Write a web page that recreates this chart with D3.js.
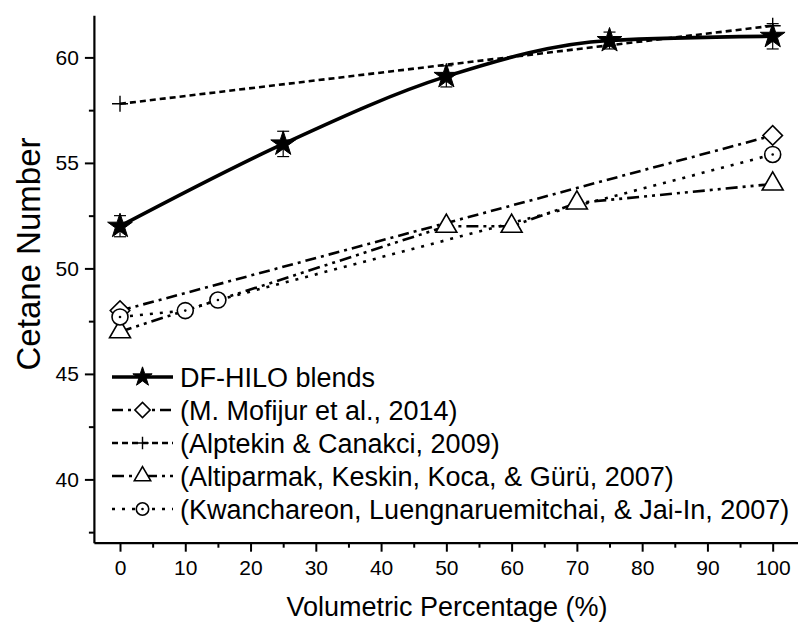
<!DOCTYPE html>
<html>
<head>
<meta charset="utf-8">
<script src="https://cdn.jsdelivr.net/npm/d3@7"></script>
<style>
    body { margin: 0; background: #fff; }
    text { font-family: "Liberation Sans", Arial, sans-serif; fill: #000; }
</style>
</head>
<body>
<div id="canvas"></div>
<script>
/**
 * Data
 */
const hiloX = [0, 25, 50, 75, 100];
const hiloY = [52.0, 55.9, 59.1, 60.8, 61.0];
const hiloErr = [0.5, 0.6, 0.5, 0.4, 0.6];

const mofijurX = [0, 100];
const mofijurY = [48.0, 56.3];

const alptekinX = [0, 100];
const alptekinY = [57.8, 61.5];

const altiparmakX = [0, 50, 60, 70, 100];
const altiparmakY = [47.0, 52.0, 52.0, 53.1, 54.0];

const kwanX = [0, 10, 15, 100];
const kwanY = [47.7, 48.0, 48.5, 55.4];

const legendLabels = [
    "DF-HILO blends",
    "(M. Mofijur et al., 2014)",
    "(Alptekin & Canakci, 2009)",
    "(Altiparmak, Keskin, Koca, & Gürü, 2007)",
    "(Kwanchareon, Luengnaruemitchai, & Jai-In, 2007)"
];

const xTickValues = [0, 10, 20, 30, 40, 50, 60, 70, 80, 90, 100];
const xMinorValues = [5, 15, 25, 35, 45, 55, 65, 75, 85, 95];
const yTickValues = [40, 45, 50, 55, 60];
const yMinorValues = [37.5, 42.5, 47.5, 52.5, 57.5];

/**
 * Helper Functions
 */
const zip = (xs, ys) => xs.map((x, i) => ({ x: x, y: ys[i] }));

// marker drawers, each one appends into g
const markers = {
    star: (g, s) => g.append("path")
        .attr("d", d3.symbol().type(d3.symbolStar).size(190 * s * s))
        .attr("fill", "#000").attr("stroke", "#000").attr("stroke-width", 1),
    diamond: (g, s) => g.append("path")
        .attr("d", d3.symbol().type(d3.symbolSquare).size(190 * s * s))
        .attr("transform", "rotate(45)")
        .attr("fill", "#fff").attr("stroke", "#000").attr("stroke-width", 1.6),
    plus: (g, s) => g.append("path")
        .attr("d", "M" + (-8 * s) + ",0H" + (8 * s) + "M0," + (-8 * s) + "V" + (8 * s))
        .attr("fill", "none").attr("stroke", "#000").attr("stroke-width", 1.4),
    triangle: (g, s) => g.append("path")
        .attr("d", d3.symbol().type(d3.symbolTriangle).size(190 * s * s))
        .attr("fill", "#fff").attr("stroke", "#000").attr("stroke-width", 1.6),
    circle: (g, s) => {
        g.append("circle").attr("r", 8 * s)
            .attr("fill", "#fff").attr("stroke", "#000").attr("stroke-width", 1.6);
        return g.append("circle").attr("r", 1.3).attr("fill", "#000");
    }
};

function drawChart() {
    const width = 798, height = 623;

    const svg = d3.select("#canvas")
        .append("svg")
        .attr("width", width)
        .attr("height", height);

    const x = d3.scaleLinear().domain([-4, 104]).range([93.9, 798.8]);
    const y = d3.scaleLinear().domain([37, 62]).range([542.7, 15.2]);

    const series = [
        { name: legendLabels[1], data: zip(mofijurX, mofijurY), dash: "11,5,3,5", width: 2.6, marker: "diamond", curve: d3.curveLinear },
        { name: legendLabels[2], data: zip(alptekinX, alptekinY), dash: "6,4", width: 2.6, marker: "plus", curve: d3.curveLinear },
        { name: legendLabels[3], data: zip(altiparmakX, altiparmakY), dash: "12,5,3,5,3,5", width: 2.6, marker: "triangle", curve: d3.curveLinear },
        { name: legendLabels[4], data: zip(kwanX, kwanY), dash: "3,7", width: 2.6, marker: "circle", curve: d3.curveLinear },
        { name: legendLabels[0], data: zip(hiloX, hiloY), dash: null, width: 3.6, marker: "star", curve: d3.curveMonotoneX }
    ];

    // lines
    series.forEach(s => {
        svg.append("path")
            .datum(s.data)
            .attr("fill", "none")
            .attr("stroke", "#000")
            .attr("stroke-width", s.width)
            .attr("stroke-dasharray", s.dash)
            .attr("d", d3.line()
                .curve(s.curve)
                .x(d => x(d.x))
                .y(d => y(d.y)));
    });

    // error bars for DF-HILO
    const errData = hiloX.map((v, i) => ({ x: v, y: hiloY[i], e: hiloErr[i] }));
    const err = svg.append("g").attr("stroke", "#000").attr("stroke-width", 1.2);
    errData.forEach(d => {
        err.append("line")
            .attr("x1", x(d.x)).attr("x2", x(d.x))
            .attr("y1", y(d.y - d.e)).attr("y2", y(d.y + d.e));
        [d.y - d.e, d.y + d.e].forEach(v => {
            err.append("line")
                .attr("x1", x(d.x) - 6).attr("x2", x(d.x) + 6)
                .attr("y1", y(v)).attr("y2", y(v));
        });
    });

    // markers
    series.forEach(s => {
        s.data.forEach(d => {
            const g = svg.append("g")
                .attr("transform", "translate(" + x(d.x) + "," + y(d.y) + ")");
            markers[s.marker](g, 1);
        });
    });

    // axes
    const xAxis = svg.append("g")
        .attr("transform", "translate(0," + y(37) + ")")
        .call(d3.axisBottom(x).tickValues(xTickValues).tickSize(9).tickSizeOuter(0).tickPadding(8));
    svg.append("g")
        .attr("transform", "translate(0," + y(37) + ")")
        .call(d3.axisBottom(x).tickValues(xMinorValues).tickSize(5).tickFormat(""))
        .select(".domain").remove();

    const yAxis = svg.append("g")
        .attr("transform", "translate(" + x(-4) + ",0)")
        .call(d3.axisLeft(y).tickValues(yTickValues).tickSize(9).tickSizeOuter(0).tickPadding(6));
    svg.append("g")
        .attr("transform", "translate(" + x(-4) + ",0)")
        .call(d3.axisLeft(y).tickValues(yMinorValues).tickSize(5).tickFormat(""))
        .select(".domain").remove();

    svg.selectAll(".domain").attr("stroke-width", 2.2);
    svg.selectAll(".tick line").attr("stroke-width", 2);
    xAxis.selectAll("text").style("font-size", "21px").attr("dy", "0.75em");
    yAxis.selectAll("text").style("font-size", "21px");

    svg.append("text")
        .attr("x", (x(-4) + 798) / 2 + 1)
        .attr("y", 616)
        .style("text-anchor", "middle")
        .style("font-size", "27px")
        .text("Volumetric Percentage (%)");

    svg.append("text")
        .attr("transform", "translate(40," + 254 + ") rotate(-90)")
        .style("text-anchor", "middle")
        .style("font-size", "33px")
        .text("Cetane Number");

    // legend
    const legendOrder = [4, 0, 1, 2, 3];
    legendOrder.forEach((idx, row) => {
        const s = series[idx];
        const cy = 377 + row * 33;
        const lg = svg.append("g").attr("transform", "translate(0," + cy + ")");
        lg.append("line")
            .attr("x1", 112).attr("x2", 173)
            .attr("stroke", "#000")
            .attr("stroke-width", s.width)
            .attr("stroke-dasharray", s.dash);
        const mg = lg.append("g").attr("transform", "translate(142.5,0)");
        markers[s.marker](mg, 0.78);
        lg.append("text")
            .attr("x", 180)
            .attr("dy", "0.36em")
            .style("font-size", "27px")
            .text(s.name);
    });
}

drawChart();
</script>
</body>
</html>
